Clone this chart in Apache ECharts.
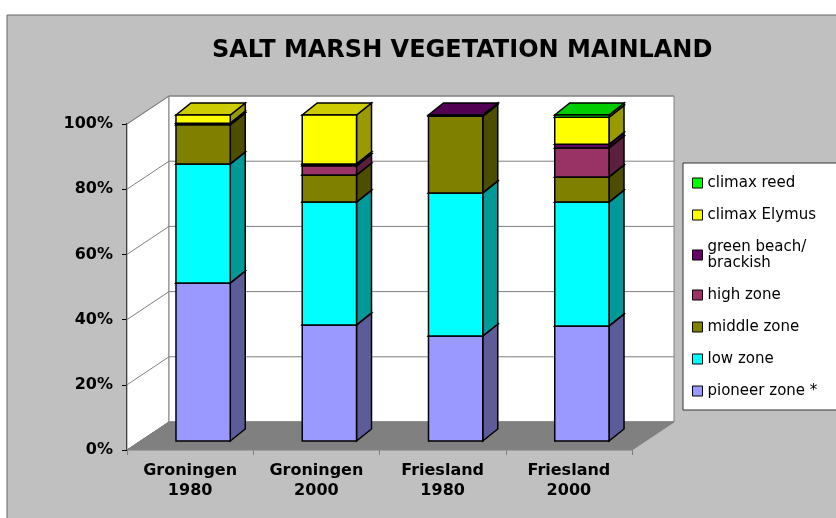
<!DOCTYPE html>
<html>
<head>
<meta charset="utf-8">
<script src="https://cdn.jsdelivr.net/npm/echarts@6/dist/echarts.min.js"></script>
<style>
  html, body { margin: 0; padding: 0; background: #fff; }
  #chart { width: 836px; height: 518px; }
</style>
</head>
<body>
<div id="chart"></div>
<script>
// values in percent
const sites = ["Groningen\n1980", "Groningen\n2000", "Friesland\n1980", "Friesland\n2000"];
const pioneerZone = [48.5, 35.6, 32.2, 35.3];
const lowZone = [36.5, 37.7, 43.9, 38.0];
const middleZone = [12.0, 8.3, 23.5, 7.7];
const highZone = [0, 2.8, 0, 8.9];
const greenBeach = [0.5, 0.6, 0.4, 1.1];
const climaxElymus = [2.5, 15.0, 0, 8.3];
const climaxReed = [0, 0, 0, 0.7];
const yTicks = [0, 20, 40, 60, 80, 100];

const layers = [
  { name: "pioneer zone *", values: pioneerZone, color: "#9999ff" },
  { name: "low zone", values: lowZone, color: "#00ffff" },
  { name: "middle zone", values: middleZone, color: "#808000" },
  { name: "high zone", values: highZone, color: "#993366" },
  { name: "green beach/\nbrackish", values: greenBeach, color: "#660066" },
  { name: "climax Elymus", values: climaxElymus, color: "#ffff00" },
  { name: "climax reed", values: climaxReed, color: "#00ff00" }
];

const FONT = "DejaVu Sans, sans-serif";
// 3d look: walls depth, bar front offset, bar depth
const WALL_DX = 42, WALL_DY = -28;
const FRONT_DX = 13, FRONT_DY = -9;
const BAR_DX = 15, BAR_DY = -12;

function shade(hex, f) {
  const n = parseInt(hex.slice(1), 16);
  const r = Math.round(((n >> 16) & 255) * f);
  const g = Math.round(((n >> 8) & 255) * f);
  const b = Math.round((n & 255) * f);
  return "rgb(" + r + "," + g + "," + b + ")";
}

function barItem(color) {
  return function (params, api) {
    const cat = api.value(0), lo = api.value(1), hi = api.value(2);
    if (hi - lo <= 0) return null;
    const p0 = api.coord([cat, lo]);
    const p1 = api.coord([cat, hi]);
    const bw = api.size([1, 0])[0] * 0.43;
    const x0 = p0[0] - bw / 2 + FRONT_DX, x1 = x0 + bw;
    const yb = p0[1] + FRONT_DY, yt = p1[1] + FRONT_DY;
    return {
      type: "group",
      children: [
        {
          type: "polygon",
          shape: { points: [[x1, yb], [x1 + BAR_DX, yb + BAR_DY], [x1 + BAR_DX, yt + BAR_DY], [x1, yt]] },
          style: { fill: shade(color, 0.6), stroke: "#000", lineWidth: 1.5 }
        },
        {
          type: "polygon",
          shape: { points: [[x0, yt], [x1, yt], [x1 + BAR_DX, yt + BAR_DY], [x0 + BAR_DX, yt + BAR_DY]] },
          style: { fill: shade(color, 0.8), stroke: "#000", lineWidth: 1.5 }
        },
        {
          type: "rect",
          shape: { x: x0, y: yt, width: bw, height: yb - yt },
          style: { fill: color, stroke: "#000", lineWidth: 1.5 }
        }
      ]
    };
  };
}

function wallsItem(params, api) {
  const cs = params.coordSys;
  const l = cs.x, r = cs.x + cs.width, t = cs.y, b = cs.y + cs.height;
  return {
    type: "group",
    children: [
      {
        type: "polygon",
        shape: { points: [[l, t], [l + WALL_DX, t + WALL_DY], [l + WALL_DX, b + WALL_DY], [l, b]] },
        style: { fill: "#fff", stroke: "#808080", lineWidth: 1 }
      },
      {
        type: "rect",
        shape: { x: l + WALL_DX, y: t + WALL_DY, width: r - l, height: b - t },
        style: { fill: "#fff", stroke: "#808080", lineWidth: 1 }
      },
      {
        type: "polygon",
        shape: { points: [[l, b], [r, b], [r + WALL_DX, b + WALL_DY], [l + WALL_DX, b + WALL_DY]] },
        style: { fill: "#808080", stroke: "#808080", lineWidth: 1 }
      }
    ]
  };
}

function gridItem(params, api) {
  const cs = params.coordSys;
  const y = api.coord([0, api.value(1)])[1];
  const l = cs.x, r = cs.x + cs.width;
  return {
    type: "polyline",
    shape: { points: [[l, y], [l + WALL_DX, y + WALL_DY], [r + WALL_DX, y + WALL_DY]] },
    style: { fill: null, stroke: "#808080", lineWidth: 1 }
  };
}

const chart = echarts.init(document.getElementById("chart"));

const series = [
  {
    type: "custom", name: "walls", silent: true, z: 1,
    data: [[0, 0]], renderItem: wallsItem
  },
  {
    type: "custom", name: "gridlines", silent: true, z: 1,
    data: yTicks.map(v => [0, v]), renderItem: gridItem
  }
];
const base = sites.map(() => 0);
layers.forEach(layer => {
  const data = layer.values.map((v, i) => {
    const item = [i, base[i], base[i] + v];
    base[i] += v;
    return item;
  });
  series.push({
    type: "custom",
    name: layer.name,
    z: 3,
    itemStyle: { color: layer.color },
    encode: { x: 0, y: [1, 2] },
    data: data,
    renderItem: barItem(layer.color)
  });
});

const option = {
  backgroundColor: "#fff",
  animation: false,
  textStyle: { fontFamily: FONT },
  title: {
    text: "SALT MARSH VEGETATION MAINLAND",
    left: 207,
    top: 34,
    textStyle: { fontFamily: FONT, fontSize: 24, fontWeight: "bold", color: "#000" }
  },
  graphic: [
    {
      type: "rect", z: -10, silent: true,
      shape: { x: 7, y: 15, width: 840, height: 510 },
      style: { fill: "#c0c0c0", stroke: "#666", lineWidth: 1 }
    },
    {
      type: "rect", z: -5, silent: true,
      shape: { x: 683, y: 163, width: 170, height: 247 },
      style: { fill: "#fff", stroke: "#333", lineWidth: 1 }
    }
  ],
  legend: {
    orient: "vertical",
    left: 687,
    top: 170,
    icon: "rect",
    itemWidth: 10,
    itemHeight: 10,
    itemGap: 16,
    itemStyle: { borderColor: "#000", borderWidth: 1 },
    textStyle: { fontFamily: FONT, fontSize: 15, lineHeight: 16, color: "#000" },
    data: layers.map(l => l.name).reverse()
  },
  grid: { left: 127, top: 124, width: 505, height: 326 },
  xAxis: {
    type: "category",
    data: sites,
    axisLine: { show: false },
    axisTick: { show: true, length: 5, lineStyle: { color: "#808080" } },
    axisLabel: {
      margin: 11,
      fontFamily: FONT, fontSize: 16, fontWeight: "bold", lineHeight: 20, color: "#000"
    }
  },
  yAxis: {
    type: "value",
    min: 0,
    max: 100,
    interval: 20,
    axisLine: { show: true, lineStyle: { color: "#000", width: 2 } },
    axisTick: { show: true, length: 5, lineStyle: { color: "#000" } },
    splitLine: { show: false },
    axisLabel: {
      formatter: "{value}%",
      margin: 14,
      fontFamily: FONT, fontSize: 16, fontWeight: "bold", color: "#000"
    }
  },
  series: series
};

chart.setOption(option);
</script>
</body>
</html>
